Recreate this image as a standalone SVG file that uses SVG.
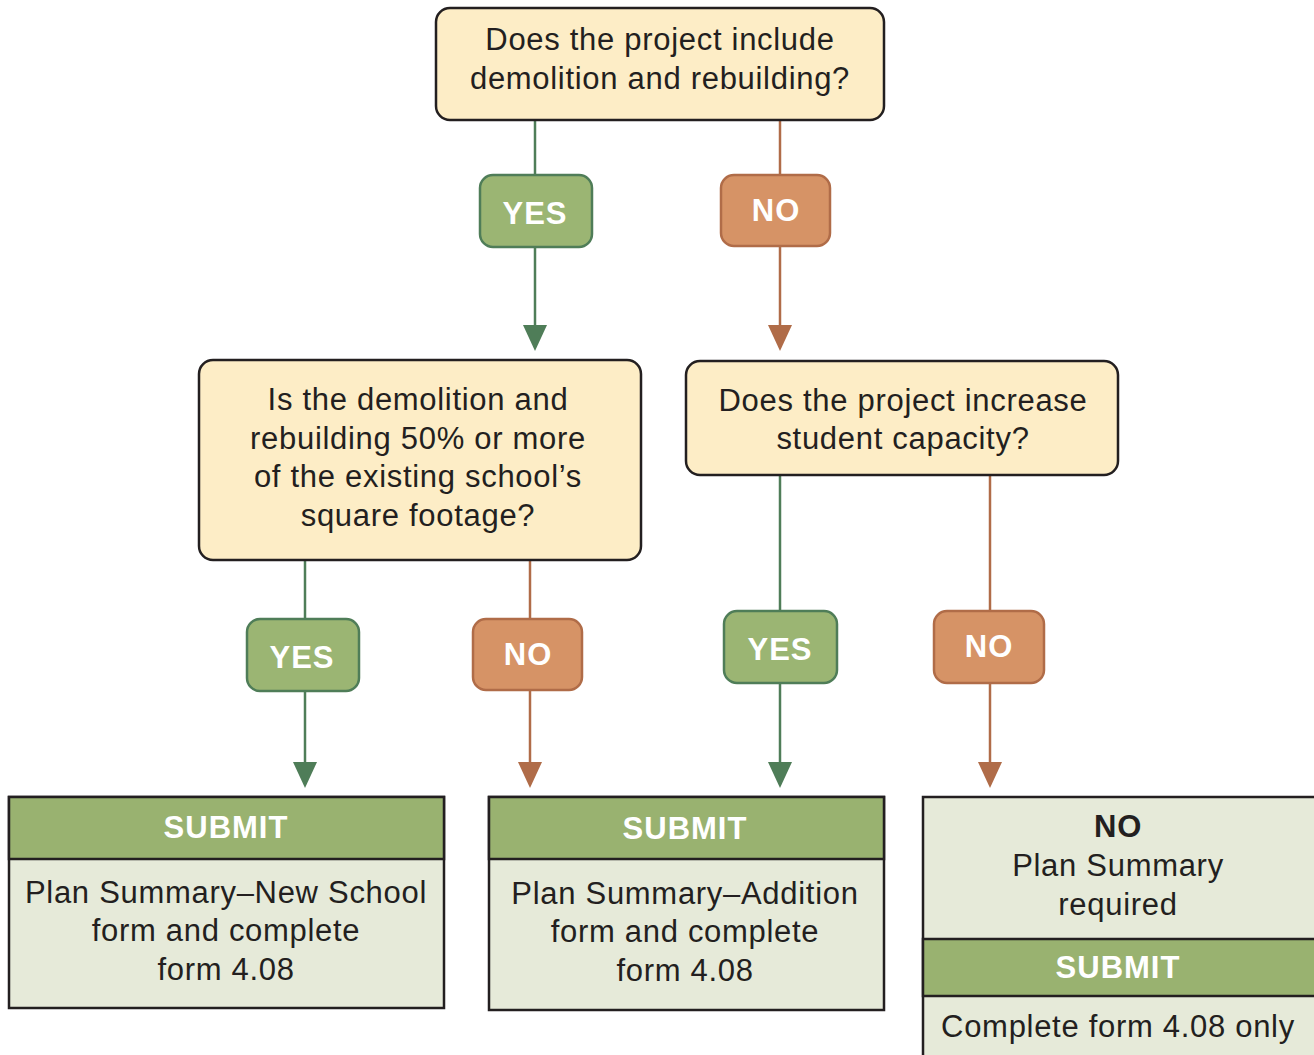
<svg xmlns="http://www.w3.org/2000/svg" width="1314" height="1055" viewBox="0 0 1314 1055">
<style>
.q{fill:#fdedc6;stroke:#231f20;stroke-width:2.5}
.t{font-family:"Liberation Sans",Arial,sans-serif;font-size:31px;letter-spacing:0.7px;fill:#231f20;text-anchor:middle}
.b{font-family:"Liberation Sans",Arial,sans-serif;font-size:31px;letter-spacing:1px;font-weight:bold;fill:#fff;text-anchor:middle}
.yes{fill:#9bb573;stroke:#4f7d58;stroke-width:2.5}
.no{fill:#d69366;stroke:#b06c48;stroke-width:2.5}
.gl{stroke:#4f7d58;stroke-width:2.5;fill:none}
.ol{stroke:#b06c48;stroke-width:2.5;fill:none}
.ga{fill:#4f7d58}
.oa{fill:#b06c48}
.body{fill:#e6ead9;stroke:#231f20;stroke-width:2.5}
.hdr{fill:#99b270;stroke:#231f20;stroke-width:2.5}
</style>
<g id="connectors">
<line class="gl" x1="535" y1="120" x2="535" y2="175"/>
<line class="gl" x1="535" y1="247" x2="535" y2="327"/>
<polygon class="ga" points="523,325 547,325 535,351"/>
<line class="ol" x1="780" y1="120" x2="780" y2="175"/>
<line class="ol" x1="780" y1="246" x2="780" y2="327"/>
<polygon class="oa" points="768,325 792,325 780,351"/>
<line class="gl" x1="305" y1="560" x2="305" y2="619"/>
<line class="gl" x1="305" y1="691" x2="305" y2="764"/>
<polygon class="ga" points="293,762 317,762 305,788"/>
<line class="ol" x1="530" y1="560" x2="530" y2="619"/>
<line class="ol" x1="530" y1="690" x2="530" y2="764"/>
<polygon class="oa" points="518,762 542,762 530,788"/>
<line class="gl" x1="780" y1="475" x2="780" y2="611"/>
<line class="gl" x1="780" y1="683" x2="780" y2="764"/>
<polygon class="ga" points="768,762 792,762 780,788"/>
<line class="ol" x1="990" y1="475" x2="990" y2="611"/>
<line class="ol" x1="990" y1="683" x2="990" y2="764"/>
<polygon class="oa" points="978,762 1002,762 990,788"/>
</g>
<g id="q1">
<rect class="q" x="436" y="8" width="448" height="112" rx="14"/>
<text class="t" x="660" y="50">Does the project include</text>
<text class="t" x="660" y="89">demolition and rebuilding?</text>
</g>
<g id="yes1"><rect class="yes" x="480" y="175" width="112" height="72" rx="13"/><text class="b" x="535" y="224">YES</text></g>
<g id="no1"><rect class="no" x="721" y="175" width="109" height="71" rx="13"/><text class="b" x="776" y="221">NO</text></g>
<g id="q2">
<rect class="q" x="199" y="360" width="442" height="200" rx="14"/>
<text class="t" x="418" y="410">Is the demolition and</text>
<text class="t" x="418" y="449">rebuilding 50% or more</text>
<text class="t" x="418" y="487">of the existing school’s</text>
<text class="t" x="418" y="526">square footage?</text>
</g>
<g id="q3">
<rect class="q" x="686" y="361" width="432" height="114" rx="14"/>
<text class="t" x="903" y="411">Does the project increase</text>
<text class="t" x="903" y="449">student capacity?</text>
</g>
<g id="yes2"><rect class="yes" x="247" y="619" width="112" height="72" rx="13"/><text class="b" x="302" y="668">YES</text></g>
<g id="no2"><rect class="no" x="473" y="619" width="109" height="71" rx="13"/><text class="b" x="528" y="665">NO</text></g>
<g id="yes3"><rect class="yes" x="724" y="611" width="113" height="72" rx="13"/><text class="b" x="780" y="660">YES</text></g>
<g id="no3"><rect class="no" x="934" y="611" width="110" height="72" rx="13"/><text class="b" x="989" y="657">NO</text></g>
<g id="r1">
<rect class="body" x="9" y="797" width="435" height="211"/>
<rect class="hdr" x="9" y="797" width="435" height="62"/>
<text class="b" x="226" y="838">SUBMIT</text>
<text class="t" x="226" y="903">Plan Summary–New School</text>
<text class="t" x="226" y="941">form and complete</text>
<text class="t" x="226" y="980">form 4.08</text>
</g>
<g id="r2">
<rect class="body" x="489" y="797" width="395" height="213"/>
<rect class="hdr" x="489" y="797" width="395" height="62"/>
<text class="b" x="685" y="839">SUBMIT</text>
<text class="t" x="685" y="904">Plan Summary–Addition</text>
<text class="t" x="685" y="942">form and complete</text>
<text class="t" x="685" y="981">form 4.08</text>
</g>
<g id="r3">
<rect class="body" x="923" y="797" width="400" height="270"/>
<rect class="hdr" x="923" y="939" width="400" height="57"/>
<text class="t" x="1118" y="837" style="font-weight:bold">NO</text>
<text class="t" x="1118" y="876">Plan Summary</text>
<text class="t" x="1118" y="915">required</text>
<text class="b" x="1118" y="978">SUBMIT</text>
<text class="t" x="1118" y="1037">Complete form 4.08 only</text>
</g>
</svg>
